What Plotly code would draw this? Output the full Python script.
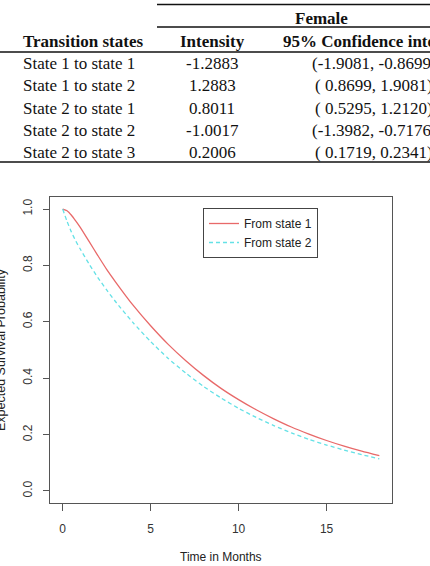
import plotly.graph_objects as go

# ---------------- data ----------------
# Table
transition_states = ["State 1 to state 1", "State 1 to state 2", "State 2 to state 1",
                     "State 2 to state 2", "State 2 to state 3"]
intensity = ["-1.2883", "1.2883", "0.8011", "-1.0017", "0.2006"]
ci_text = ["(-1.9081, -0.8699)", "( 0.8699, 1.9081)", "( 0.5295, 1.2120)",
           "(-1.3982, -0.7176)", "( 0.1719, 0.2341)"]
group_header = "Female"
col_headers = ["Transition states", "Intensity", "95% Confidence interval"]

# Survival curves
months = [0, 0.25, 0.5, 0.75, 1, 1.5, 2, 2.5, 3, 4, 5, 6, 7, 8, 9, 10, 11, 12, 13, 14,
          15, 16, 17, 18]
from_state1 = [1.000, 0.994, 0.978, 0.957, 0.935, 0.885, 0.835, 0.786, 0.742, 0.659,
               0.586, 0.520, 0.462, 0.410, 0.364, 0.324, 0.288, 0.256, 0.227, 0.202,
               0.179, 0.159, 0.141, 0.125]
from_state2 = [1.000, 0.956, 0.918, 0.886, 0.858, 0.805, 0.757, 0.713, 0.672, 0.597,
               0.530, 0.470, 0.418, 0.371, 0.330, 0.293, 0.261, 0.232, 0.206, 0.183,
               0.163, 0.145, 0.129, 0.114]
series_names = ["From state 1", "From state 2"]
x_ticks = [0, 5, 10, 15]
y_ticks = [0.0, 0.2, 0.4, 0.6, 0.8, 1.0]

# ---------------- layout helpers ----------------
W, H = 430, 566
def px(x):
    return x / W
def py(y):
    return 1 - y / H

SERIF = "Liberation Serif, Times New Roman, serif"
SANS = "Liberation Sans, Arial, sans-serif"

fig = go.Figure()
fig.add_trace(go.Scatter(x=months, y=from_state1, mode="lines", name=series_names[0],
                         line=dict(color="rgb(232,105,105)", width=1.3, shape="spline",
                                   smoothing=0.6)))
fig.add_trace(go.Scatter(x=months, y=from_state2, mode="lines", name=series_names[1],
                         line=dict(color="rgb(100,225,230)", width=1.3, dash="4px,3px",
                                   shape="spline", smoothing=0.6)))

plot_left, plot_right, plot_top, plot_bottom = 50, 392, 197, 503

axis_common = dict(showline=True, linecolor="#555", linewidth=1, mirror=True,
                   showgrid=False, zeroline=False, ticks="outside", tickcolor="#555",
                   tickfont=dict(family=SANS, size=12, color="#333"))

fig.update_layout(
    width=W, height=H,
    margin=dict(l=0, r=0, t=0, b=0),
    paper_bgcolor="white", plot_bgcolor="white",
    showlegend=True,
    legend=dict(x=px(203), y=py(208), xanchor="left", yanchor="top",
                bgcolor="white", bordercolor="#444", borderwidth=1,
                font=dict(family=SANS, size=12, color="#222"),
                itemwidth=30, tracegroupgap=0),
    xaxis=dict(domain=[px(plot_left), px(plot_right)], range=[-0.72, 18.72],
               tickvals=x_ticks, ticklen=7, ticklabelstandoff=8, **axis_common),
    yaxis=dict(domain=[py(plot_bottom), py(plot_top)], range=[-0.0426, 1.0426],
               tickvals=y_ticks, ticktext=[f"{v:.1f}" for v in y_ticks],
               tickangle=-90, ticklen=6, ticklabelstandoff=6, **axis_common),
)

annotations = []
shapes = []

# table rules
for (x0, x1, y) in [(157, 430, 4.5), (157, 430, 27), (0, 430, 52), (0, 430, 162)]:
    shapes.append(dict(type="line", xref="paper", yref="paper",
                       x0=px(x0), x1=px(x1), y0=py(y), y1=py(y),
                       line=dict(color="#111", width=1.3)))

# headers
annotations.append(dict(text="<b>%s</b>" % group_header, x=px(321), y=py(18.5),
                        xanchor="center", yanchor="middle"))
annotations.append(dict(text="<b>%s</b>" % col_headers[0], x=px(21), y=py(42),
                        xanchor="left", yanchor="middle"))
annotations.append(dict(text="<b>%s</b>" % col_headers[1], x=px(212), y=py(42),
                        xanchor="center", yanchor="middle"))
annotations.append(dict(text="<b>%s</b>" % col_headers[2], x=px(374), y=py(42),
                        xanchor="center", yanchor="middle"))

row_y = [63.3, 85.7, 108.2, 130.2, 152.3]
for i, name in enumerate(transition_states):
    annotations.append(dict(text=name, x=px(21), y=py(row_y[i]), xanchor="left", yanchor="middle"))
    annotations.append(dict(text=intensity[i], x=px(212), y=py(row_y[i]), xanchor="center", yanchor="middle"))
    annotations.append(dict(text=ci_text[i], x=px(374), y=py(row_y[i]), xanchor="center", yanchor="middle"))

for a in annotations:
    a.update(xref="paper", yref="paper", showarrow=False,
             font=dict(family=SERIF, size=17, color="#111"))

# axis titles
annotations.append(dict(text="Time in Months", xref="paper", yref="paper",
                        x=px(221), y=py(557), xanchor="center", yanchor="middle",
                        showarrow=False, font=dict(family=SANS, size=12, color="#222")))
annotations.append(dict(text="Expected Survival Probability", xref="paper", yref="paper",
                        x=px(1), y=py(350), xanchor="center", yanchor="middle",
                        textangle=-90, showarrow=False,
                        font=dict(family=SANS, size=12.5, color="#222")))

fig.update_layout(annotations=annotations, shapes=shapes)
fig.write_html("out.html")
